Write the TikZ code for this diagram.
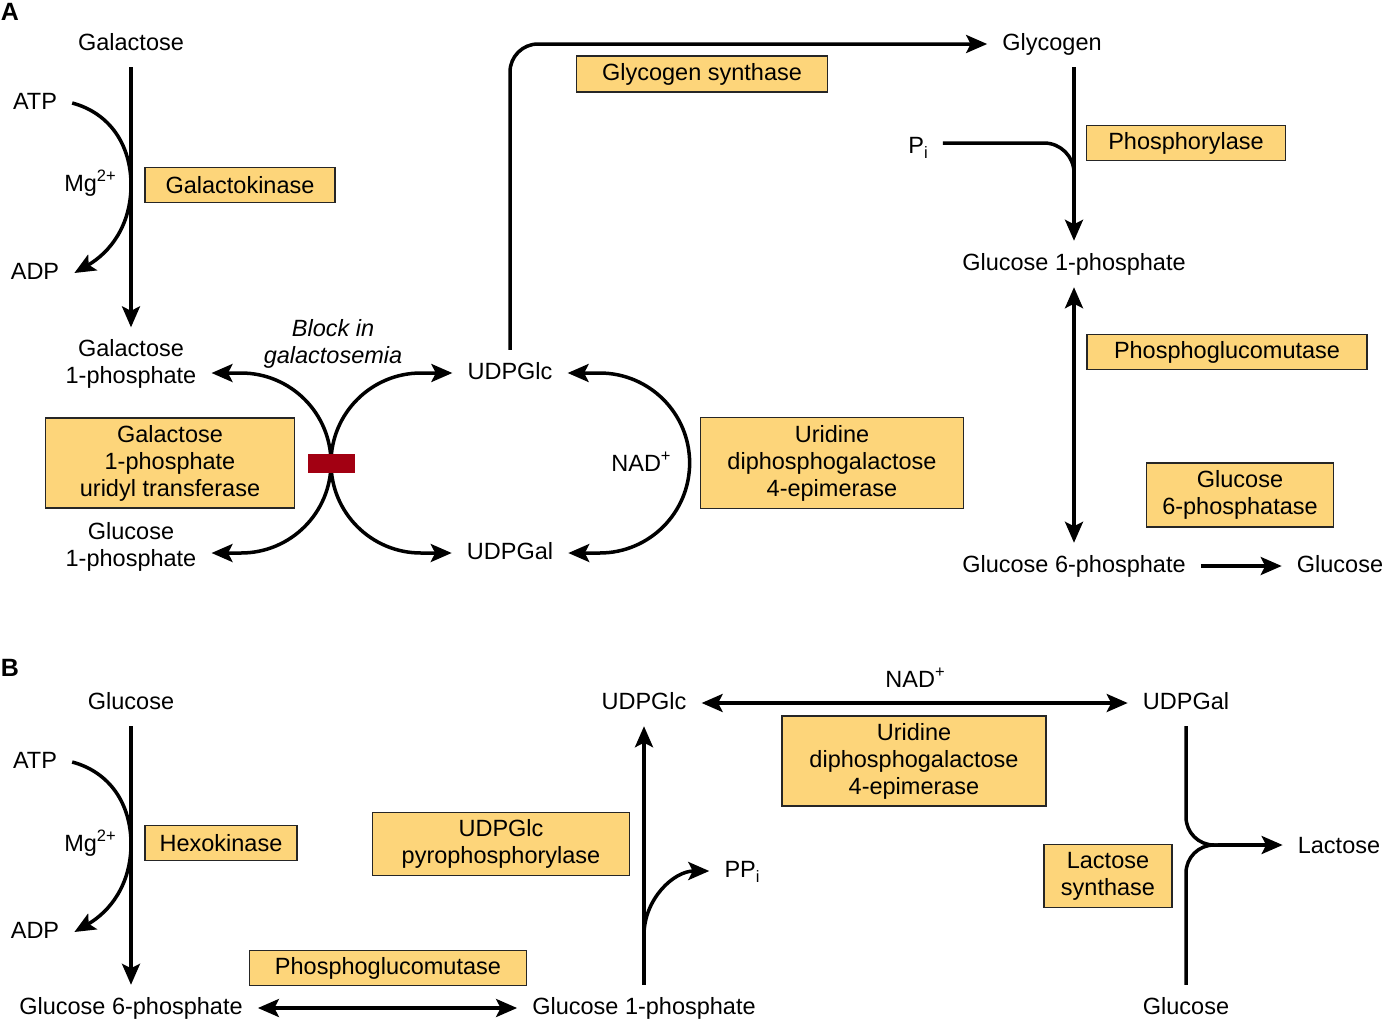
\documentclass[tikz,border=0pt]{standalone}
\usepackage{fontspec}
\setmainfont{Liberation Sans}
\usepackage{tikz}
\usetikzlibrary{arrows.meta, positioning}
\definecolor{enzfill}{RGB}{253,213,122}
\definecolor{blockred}{RGB}{162,0,18}
\newcommand\upsc[1]{\raisebox{0.42em}{\fontsize{16.5}{16.5}\selectfont #1}}
\newcommand\dnsc[1]{\raisebox{-0.22em}{\fontsize{16.5}{16.5}\selectfont #1}}

\begin{document}
\begin{tikzpicture}[
  x=1pt, y=-1pt,
  lbl/.style={font=\fontsize{23.5}{27}\selectfont, inner xsep=15pt, inner ysep=12pt, align=center},
  one/.style={lbl, text height=17pt, text depth=5pt},
  enz/.style={draw=black!85, line width=1.6pt, fill=enzfill, inner sep=3pt,
              font=\fontsize{23.5}{27}\selectfont, align=center},
  ln/.style={line width=3.5pt},
  arr/.style={ln, -{Stealth[length=21pt, width=18pt, inset=4.5pt]}},
  arrb/.style={ln, {Stealth[length=21pt, width=18pt, inset=4.5pt]}-{Stealth[length=21pt, width=18pt, inset=4.5pt]}},
  panel/.style={font=\fontsize{25}{28}\selectfont\bfseries, inner sep=0pt}
]
\useasboundingbox (0,0) rectangle (1384,1021);

\node[panel] (pa) at (10,12) {A};
\node[one] (gal) at (131,44) {Galactose};
\node[one] (atpA) at (35,103) {ATP};
\node[one] (adpA) at (35,273) {ADP};
\node[one] (mgA) at (90,185) {Mg\upsc{2+}};
\node[enz, minimum width=190pt, minimum height=35pt] (gk) at (240,185) {Galactokinase};
\coordinate (gkj) at (131,185);
\node[lbl] (gal1p) at (131,364) {Galactose\\1-phosphate};
\node[lbl] (glc1pA) at (131,547) {Glucose\\1-phosphate};
\node[enz, minimum width=249pt, minimum height=90pt] (gput) at (170,463) {Galactose\\1-phosphate\\uridyl transferase};
\node[lbl, font=\fontsize{23.5}{27}\selectfont\itshape] (blk) at (333,344) {Block in\\galactosemia};
\node[one] (udpglc) at (510,373) {UDPGlc};
\node[one] (udpgal) at (510,553) {UDPGal};
\node[one] (nadA) at (641,465) {NAD\upsc{+}};
\node[enz, minimum width=263pt, minimum height=91pt] (epiA) at (832,463) {Uridine\\diphosphogalactose\\4-epimerase};
\coordinate (cross) at (331,463);

\node[one] (glycogen) at (1052,44) {Glycogen};
\node[enz, minimum width=251pt, minimum height=36pt] (gs) at (702,74) {Glycogen synthase};
\node[one] (pi) at (918,147) {P\dnsc{i}};
\node[enz, minimum width=199pt, minimum height=35pt] (phos) at (1186,143) {Phosphorylase};
\coordinate (pij) at (1074,182);
\node[one] (g1pA) at (1074,264) {Glucose 1-phosphate};
\node[enz, minimum width=280pt, minimum height=35pt] (pgmA) at (1227,352) {Phosphoglucomutase};
\node[enz, minimum width=187pt, minimum height=64pt] (g6pase) at (1240,495) {Glucose\\6-phosphatase};
\node[one] (g6pA) at (1074,566) {Glucose 6-phosphate};
\node[one] (glcA) at (1340,566) {Glucose};

\draw[arr] (gal) -- (gal1p);
\draw[arr] (atpA.east) to[out=-15,in=90] (gkj) to[out=-90,in=30] (adpA.east);
\draw[arr] (cross) arc[start angle=0, end angle=90, radius=90pt] -- (gal1p.east |- udpglc.west);
\draw[arr] (cross) arc[start angle=0, end angle=-90, radius=90pt] -- (glc1pA.east |- udpgal.west);
\draw[arr] (cross) arc[start angle=180, end angle=90, radius=90pt] -- (udpglc.west);
\draw[arr] (cross) arc[start angle=180, end angle=270, radius=90pt] -- (udpgal.west);
\node[fill=blockred, minimum width=47pt, minimum height=19pt, inner sep=0pt] (block) at (cross) {};
\draw[arrb] (udpglc.east) -- ++(32,0) arc[start angle=90, end angle=-90, radius=90pt] -- (udpgal.east);
\draw[arr, rounded corners=28pt] (udpglc.north) |- (glycogen.west);
\draw[arr] (glycogen.south -| g1pA.north) -- (g1pA.north);
\draw[ln, rounded corners=30pt] (pi.east |- phos.west) -| (pij);
\draw[arrb] (g1pA) -- (g6pA);
\draw[arr] (g6pA) -- (glcA);

\node[panel] (pb) at (10,668) {B};
\node[one] (glcB) at (131,703) {Glucose};
\node[one] (atpB) at (35,762) {ATP};
\node[one] (adpB) at (35,932) {ADP};
\node[one] (mgB) at (90,845) {Mg\upsc{2+}};
\node[enz, minimum width=152pt, minimum height=35pt] (hk) at (221,843) {Hexokinase};
\coordinate (hkj) at (131,844);
\node[one] (g6pB) at (131,1008) {Glucose 6-phosphate};
\node[enz, minimum width=277pt, minimum height=35pt] (pgmB) at (388,968) {Phosphoglucomutase};
\node[one] (g1pB) at (644,1008) {Glucose 1-phosphate};
\node[enz, minimum width=257pt, minimum height=63pt] (ugp) at (501,844) {UDPGlc\\pyrophosphorylase};
\node[one] (udpglcB) at (644,703) {UDPGlc};
\node[one] (ppi) at (742,871) {PP\dnsc{i}};
\coordinate (ppj) at (644,935);
\node[one] (udpgalB) at (1186,703) {UDPGal};
\node[one] (nadB) at (915,681) {NAD\upsc{+}};
\node[enz, minimum width=264pt, minimum height=90pt] (epiB) at (914,761) {Uridine\\diphosphogalactose\\4-epimerase};
\node[one] (lac) at (1339,847) {Lactose};
\node[enz, minimum width=128pt, minimum height=63pt] (ls) at (1108,876) {Lactose\\synthase};
\node[one] (glcL) at (1186,1008) {Glucose};
\coordinate (fork) at (1218,845);

\draw[arr] (glcB) -- (g6pB);
\draw[arr] (atpB.east) to[out=-15,in=90] (hkj) to[out=-90,in=30] (adpB.east);
\draw[arrb] (g6pB) -- (g1pB);
\draw[arr] (g1pB) -- (udpglcB);
\draw[arr] (ppj) to[out=90,in=180] (ppi.west);
\draw[arrb] (udpglcB) -- (udpgalB);
\draw[ln, rounded corners=28pt] (udpgalB) |- (fork);
\draw[ln, rounded corners=28pt] (glcL) |- (fork);
\draw[arr] (fork) -- (fork -| lac.west);
\end{tikzpicture}
\end{document}
